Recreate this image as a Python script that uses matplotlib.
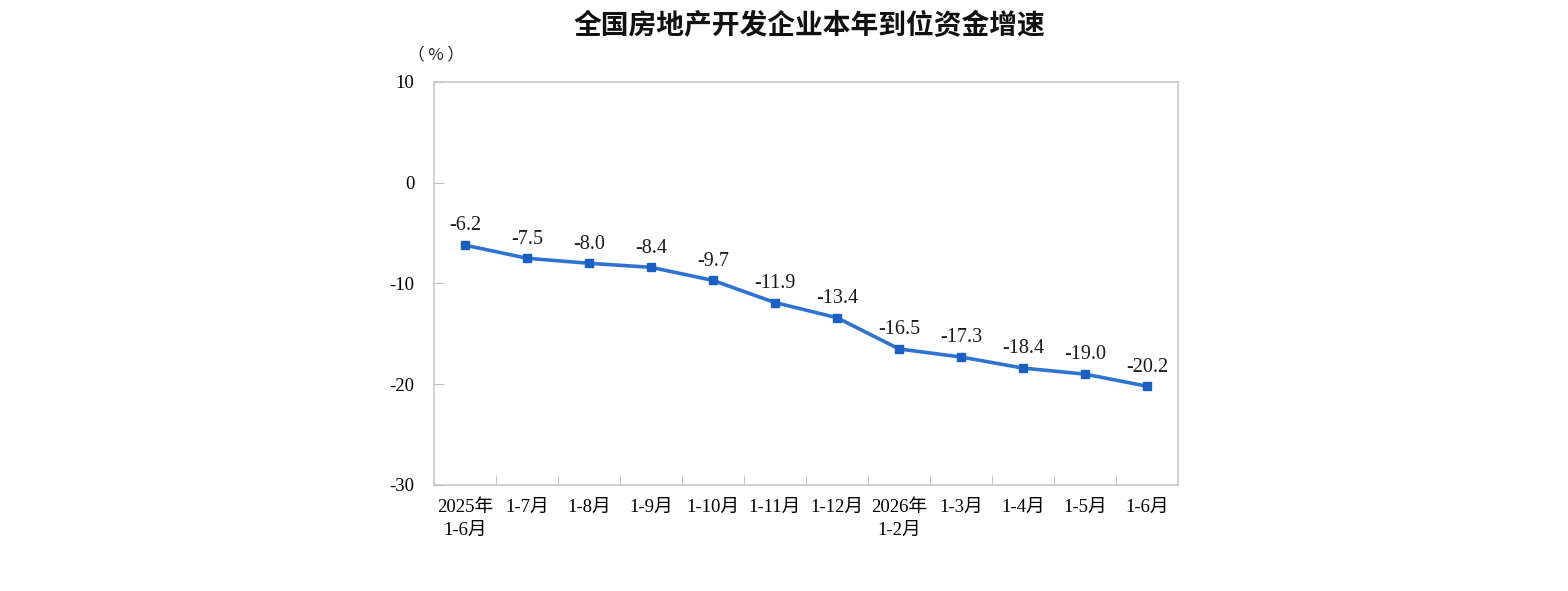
import matplotlib
matplotlib.use("Agg")
import matplotlib.pyplot as plt
import numpy as np

periods = ["2025年\n1-6月", "1-7月", "1-8月", "1-9月", "1-10月", "1-11月", "1-12月",
           "2026年\n1-2月", "1-3月", "1-4月", "1-5月", "1-6月"]
growth = [-6.2, -7.5, -8.0, -8.4, -9.7, -11.9, -13.4, -16.5, -17.3, -18.4, -19.0, -20.2]
yticks = [10, 0, -10, -20, -30]

serif = ['Liberation Serif', 'Noto Sans CJK SC']

fig = plt.figure(figsize=(15.68, 5.91), dpi=100)
ax = fig.add_axes([0.2768, 0.1794, 0.4745, 0.682])

x = np.arange(len(growth))
ax.plot(x, growth, color='#2e72d2', lw=2.6, marker='s', ms=6,
        mfc='#1a5fc4', mec='#1a5fc4', zorder=3)
for xi, v in zip(x, growth):
    ax.annotate(f"{v:.1f}", (xi, v), xytext=(0, 7), textcoords='offset points',
                ha='center', va='bottom', fontsize=14.5, family=serif, color='#1a1a1a')

ax.set_xlim(-0.5, len(growth) - 0.5)
ax.set_ylim(-30, 10)
ax.set_yticks(yticks)
ax.set_yticklabels([str(t) for t in yticks], family=serif, fontsize=13.5)
ax.set_xticks(x)
ax.set_xticklabels(periods, family=serif, fontsize=13.5, linespacing=1.5, va='top')
ax.set_xticks(np.arange(0.5, len(growth) - 0.5, 1), minor=True)
ax.tick_params(axis='x', which='major', length=0, pad=10)
ax.tick_params(axis='x', which='minor', direction='in', length=7, color='#bbbbbb')
ax.tick_params(axis='y', direction='in', length=7, color='#bbbbbb', pad=14)
for lab in ax.get_xticklabels():
    lab.set_multialignment('center')
for s in ax.spines.values():
    s.set_color('#c8c8c8')
    s.set_linewidth(1.2)

fig.text(0.278, 0.907, "（ % ）", family=['Noto Sans CJK SC', 'DejaVu Sans'],
         fontsize=12, ha='center', va='center', color='#222222')
fig.text(0.516, 0.956, "全国房地产开发企业本年到位资金增速",
         family=['Noto Sans CJK SC', 'DejaVu Sans'], fontsize=20, weight='bold',
         ha='center', va='center', color='#111111')

fig.savefig("out.png", dpi=100)
